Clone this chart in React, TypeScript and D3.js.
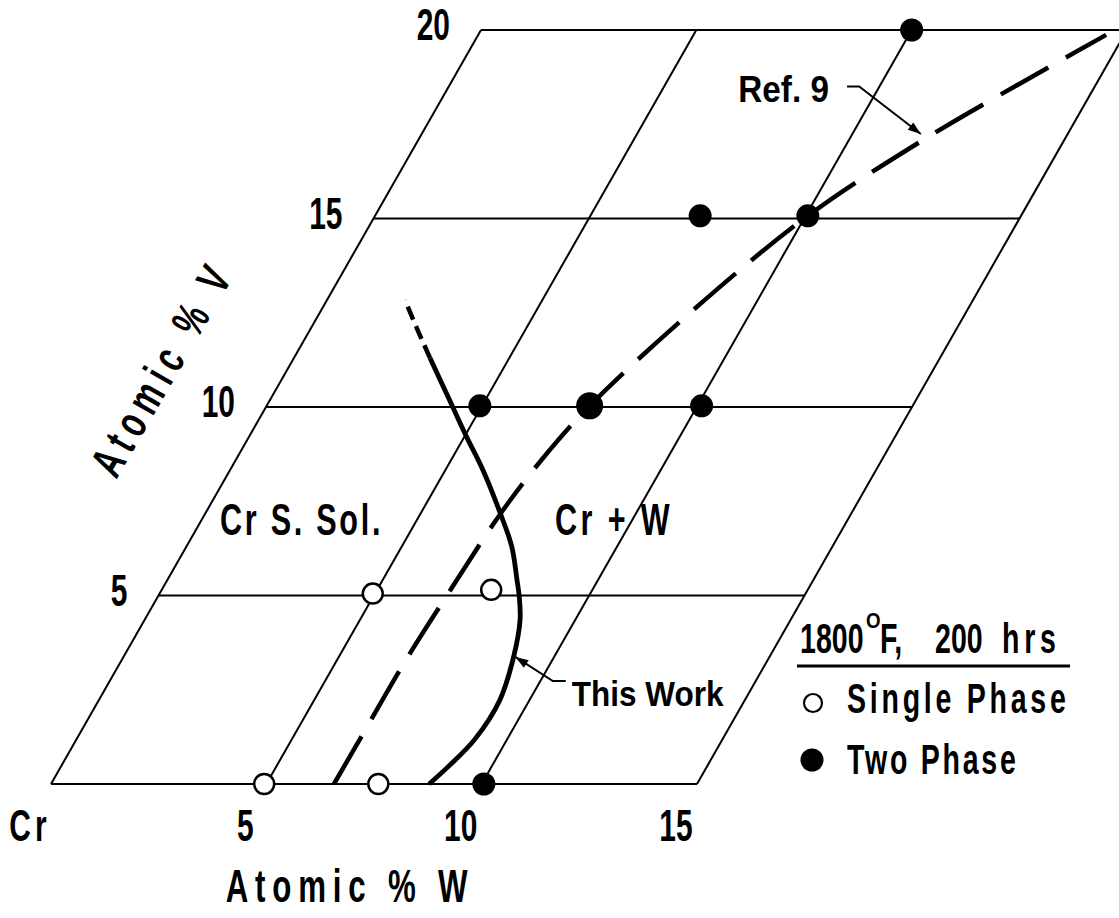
import React from 'react';
import * as d3 from 'd3';

// ---- data (Atomic % W, Atomic % V) ----
const W_TICKS = [0, 5, 10, 15];
const W_TICK_LABELS = ['Cr', '5', '10', '15'];
const V_TICKS = [0, 5, 10, 15, 20];
const V_TICK_LABELS = ['', '5', '10', '15', '20'];

const singlePhase: [number, number][] = [
  [4.95, 0], [7.6, 0], [4.95, 5.05], [7.65, 5.15],
];
// two samples coincide at (7.5, 10)
const twoPhase: [number, number][] = [
  [10.05, 0], [4.95, 10.03], [7.5, 10.03], [7.5, 10.03], [10.1, 10.03],
  [7.55, 15.07], [10.05, 15.07], [10.0, 20.0],
];
// "This Work" boundary (solid) and its dashed extension
const thisWork: [number, number][] = [
  [8.78, 0], [9.01, 0.5], [9.25, 1.19], [9.31, 2.23], [9.05, 3.4], [8.72, 4.35],
  [8.38, 4.99], [8.12, 5.41], [7.56, 6.29], [6.84, 7.19], [5.87, 8.33],
  [5.06, 9.2], [4.29, 10.05], [3.16, 11.3],
];
const thisWorkExt: [number, number][] = [[3.16, 11.3], [2.45, 12.1], [1.81, 12.84]];
// Ref. 9 boundary (dashed)
const ref9: [number, number][] = [
  [6.57, 0], [6.58, 1.31], [6.6, 3.32], [6.71, 5.21], [6.86, 7.19], [7.1, 8.6],
  [7.5, 10.03], [8.6, 12.5], [10.05, 15.07], [11.72, 17.08],
  [13.6, 18.94], [14.58, 19.87],
];

const FONT = "'Liberation Sans', Arial, sans-serif";

function CText(props: any) {
  const { x, y, sx = 0.68, anchor = 'start', size = 44, weight = 'bold', ls = 0, rotate = 0, baseline, children } = props;
  return (
    <text
      transform={`translate(${x},${y}) rotate(${rotate}) scale(${sx},1)`}
      textAnchor={anchor}
      fontSize={size}
      fontWeight={weight}
      fontFamily={FONT}
      letterSpacing={ls}
      dominantBaseline={baseline}
      fill="#000"
    >
      {children}
    </text>
  );
}

function arrowHead(tip: [number, number], from: [number, number], len = 13, half = 4.5) {
  const dx = tip[0] - from[0];
  const dy = tip[1] - from[1];
  const d = Math.hypot(dx, dy);
  const ux = dx / d, uy = dy / d;
  const bx = tip[0] - ux * len, by = tip[1] - uy * len;
  return `M${tip[0]},${tip[1]}L${bx - uy * half},${by + ux * half}L${bx + uy * half},${by - ux * half}Z`;
}

export default function App() {
  const width = 1119;
  const height = 918;
  const xW = d3.scaleLinear().domain([0, 15]).range([51, 697]);
  const yV = d3.scaleLinear().domain([0, 20]).range([784, 30]);
  const shear = d3.scaleLinear().domain([0, 20]).range([0, 430]);
  const px = (w: number, v: number) => xW(w) + shear(v);
  const pt = (d: [number, number]): [number, number] => [px(d[0], d[1]), yV(d[1])];

  const line = d3
    .line<[number, number]>()
    .x((d) => px(d[0], d[1]))
    .y((d) => yV(d[1]))
    .curve(d3.curveCatmullRom.alpha(0.5));

  // merge coincident two-phase samples (drawn a bit larger)
  const twoGroups = d3.rollups(twoPhase, (g) => g.length, (d) => d.join(','));

  // annotations (in data coordinates)
  const twTip = pt([9.1, 3.37]);
  const twElbow = pt([10.29, 2.73]);
  const twEnd = pt([10.59, 2.73]);
  const twText = pt([10.73, 2.73]);

  const rTip = pt([11.59, 17.24]);
  const rElbow = pt([9.53, 18.5]);
  const rStart = pt([9.25, 18.5]);
  const rText = pt([8.92, 18.5]);

  return (
    <svg width={width} height={height} style={{ position: 'absolute', left: 0, top: 0, background: '#fff' }}>
      <rect x={0} y={0} width={width} height={height} fill="#fff" />
      {/* grid */}
      <g stroke="#000" strokeWidth={2} fill="none">
        {W_TICKS.map((w) => (
          <line key={'w' + w} x1={px(w, 0)} y1={yV(0)} x2={px(w, 20)} y2={yV(20)} />
        ))}
        {V_TICKS.map((v) => (
          <line key={'v' + v} x1={px(0, v)} y1={yV(v)} x2={px(15, v)} y2={yV(v)} />
        ))}
      </g>

      {/* boundaries */}
      <path d={line(ref9) || ''} fill="none" stroke="#000" strokeWidth={4.5} strokeDasharray="55 20" />
      <path d={line(thisWork) || ''} fill="none" stroke="#000" strokeWidth={4.8} />
      <path d={line(thisWorkExt) || ''} fill="none" stroke="#000" strokeWidth={4.5} strokeDasharray="14 7" />

      {/* points */}
      {twoGroups.map(([key, n]) => {
        const [w, v] = key.split(',').map(Number);
        return <circle key={'t' + key} cx={px(w, v)} cy={yV(v)} r={11.5 + (n - 1) * 2} fill="#000" />;
      })}
      {singlePhase.map((d, i) => (
        <circle key={'s' + i} cx={px(d[0], d[1])} cy={yV(d[1])} r={10} fill="#fff" stroke="#000" strokeWidth={2.5} />
      ))}

      {/* W tick labels */}
      {W_TICKS.map((w, i) => (
        <CText key={'wl' + w} x={px(w, 0) - 21} y={841} anchor="middle" ls={i === 0 ? 6 : 0}>
          {W_TICK_LABELS[i]}
        </CText>
      ))}
      {/* V tick labels */}
      {V_TICKS.map((v, i) =>
        V_TICK_LABELS[i] ? (
          <CText key={'vl' + v} x={px(0, v) - 31} y={yV(v) + 10} anchor="end">
            {V_TICK_LABELS[i]}
          </CText>
        ) : null
      )}

      {/* axis titles */}
      <CText x={350} y={902} anchor="middle" size={46} ls={10}>Atomic % W</CText>
      <CText x={162} y={368} anchor="middle" size={46} ls={10} rotate={-60} baseline="central">Atomic % V</CText>

      {/* region labels */}
      <CText x={220} y={535} size={45} ls={4}>Cr S. Sol.</CText>
      <CText x={555} y={535} size={45} ls={5}>Cr + W</CText>

      {/* This Work annotation */}
      <polyline points={`${twEnd[0]},${twEnd[1]} ${twElbow[0]},${twElbow[1]} ${twTip[0]},${twTip[1]}`} fill="none" stroke="#000" strokeWidth={2} />
      <path d={arrowHead(twTip, twElbow)} fill="#000" />
      <CText x={twText[0]} y={twText[1] + 25} sx={0.9} size={35}>This Work</CText>

      {/* Ref. 9 annotation */}
      <polyline points={`${rStart[0]},${rStart[1]} ${rElbow[0]},${rElbow[1]} ${rTip[0]},${rTip[1]}`} fill="none" stroke="#000" strokeWidth={2} />
      <path d={arrowHead(rTip, rElbow)} fill="#000" />
      <CText x={rText[0] - 4} y={rText[1] + 15} sx={0.9} anchor="end" size={37}>Ref. 9</CText>

      {/* legend */}
      <CText x={800} y={653} size={42}>1800</CText>
      <CText x={866} y={628} size={22} sx={0.85}>O</CText>
      <CText x={880} y={653} size={42}>F,</CText>
      <CText x={935} y={653} size={42}>200</CText>
      <CText x={1002} y={653} size={42} ls={7}>hrs</CText>
      <line x1={797} y1={666} x2={1070} y2={666} stroke="#000" strokeWidth={3} />
      <circle cx={813} cy={703} r={9} fill="#fff" stroke="#000" strokeWidth={2.2} />
      <CText x={847} y={713} size={42} ls={5.5}>Single Phase</CText>
      <circle cx={812} cy={760} r={11.5} fill="#000" />
      <CText x={847} y={774} size={42} ls={4}>Two Phase</CText>
    </svg>
  );
}
